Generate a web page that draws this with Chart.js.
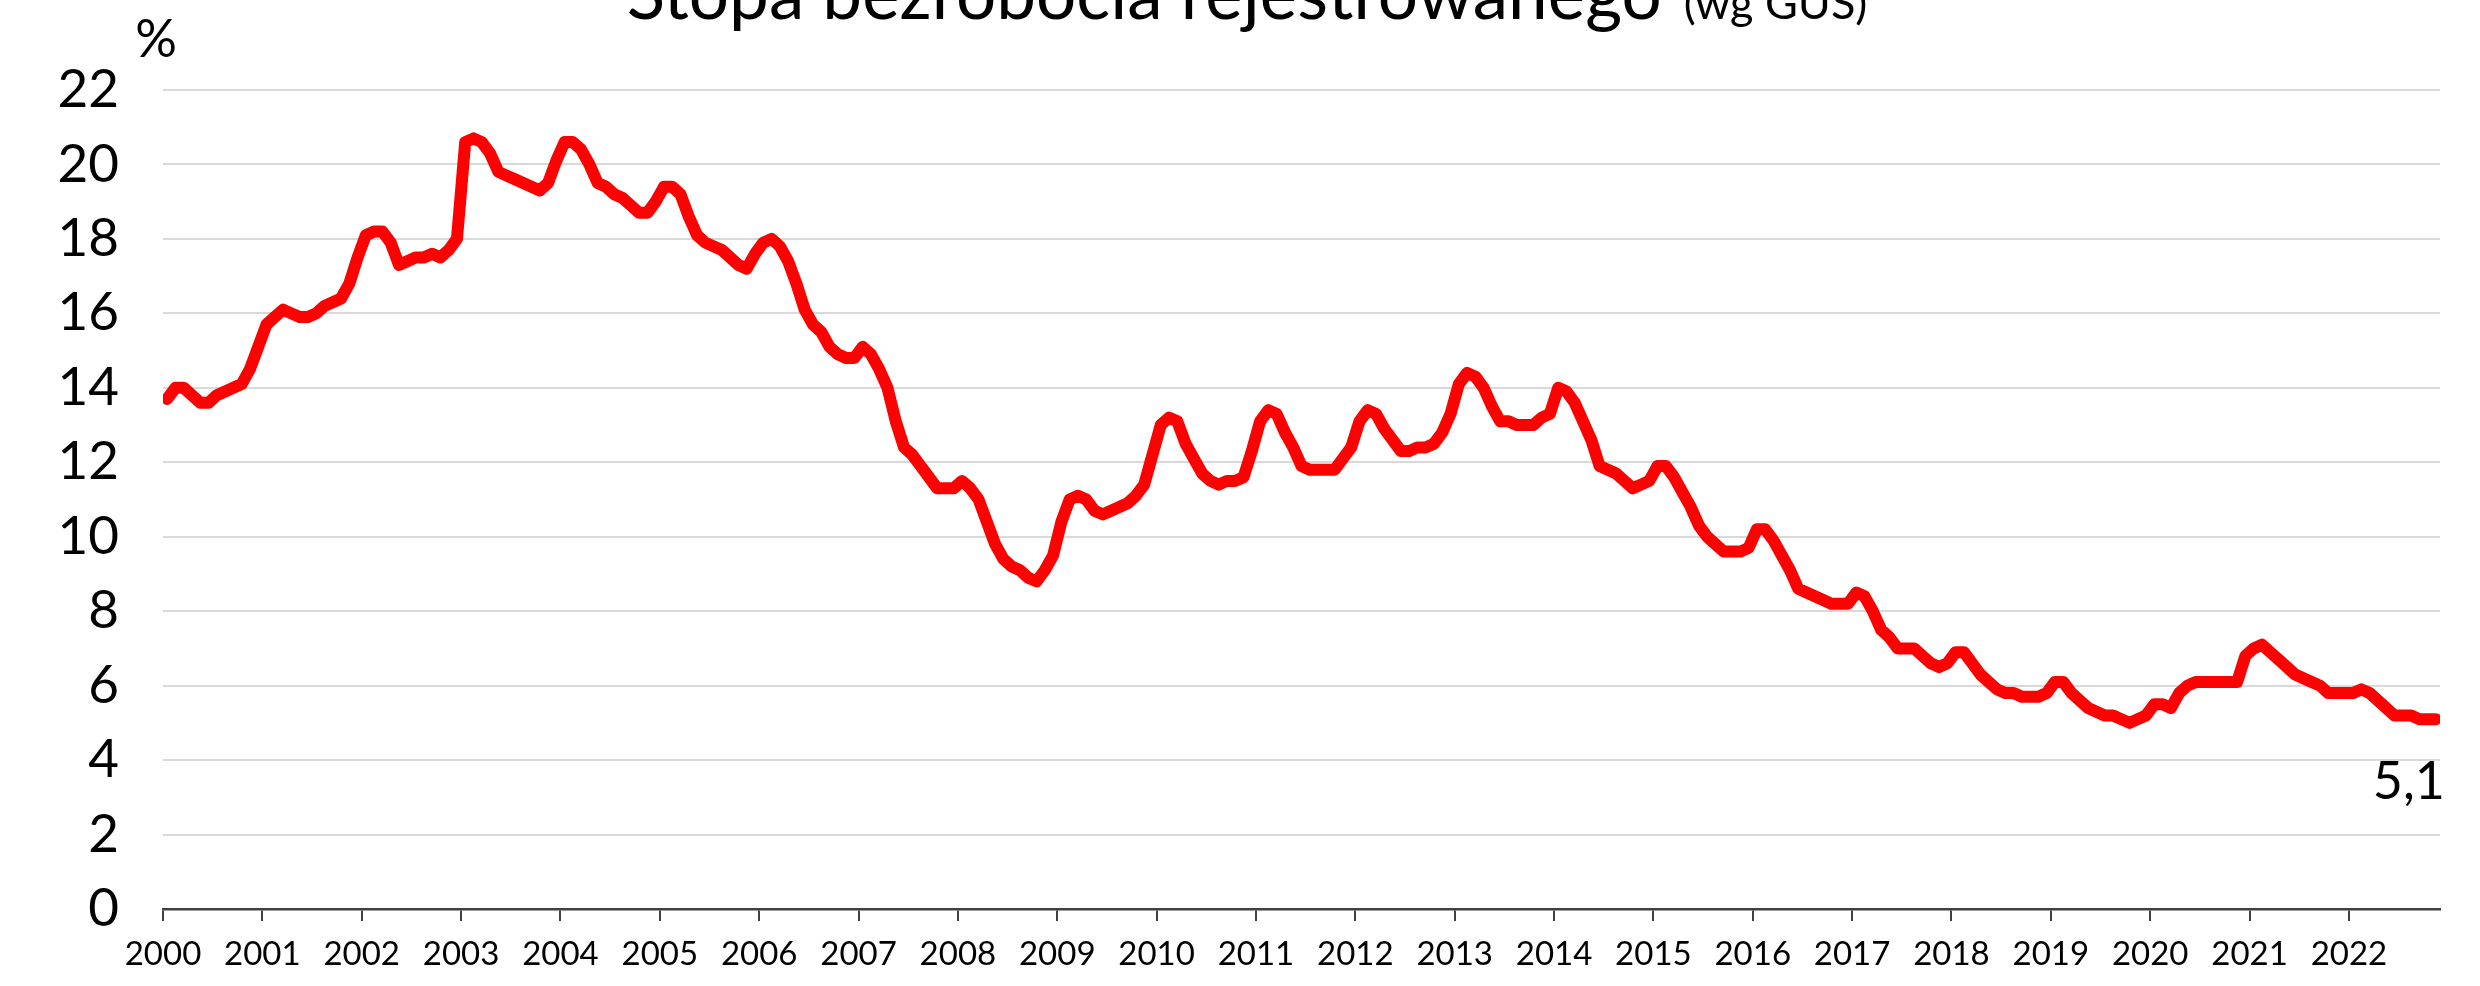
<!DOCTYPE html>
<html><head><meta charset="utf-8">
<script src="https://cdn.jsdelivr.net/npm/chart.js@4"></script>
<style>html,body{margin:0;padding:0;background:#fff}canvas{display:block}</style>
</head><body>
<canvas id="c" width="2480" height="986" style="width:2480px;height:986px"></canvas>
<script>
const titleMain = 'Stopa bezrobocia rejestrowanego';
const titleSub = '(wg GUS)';
const unitLabel = '%';
const yearLabels = [2000,2001,2002,2003,2004,2005,2006,2007,2008,2009,2010,2011,2012,2013,2014,2015,2016,2017,2018,2019,2020,2021,2022];
const yTicks = [0,2,4,6,8,10,12,14,16,18,20,22];

// monthly registered unemployment rate (%), Jan 2000 - Nov 2022
const rates2000s = [
  13.7,14.0,14.0,13.8,13.6,13.6,13.8,13.9,14.0,14.1,14.5,15.1,
  15.7,15.9,16.1,16.0,15.9,15.9,16.0,16.2,16.3,16.4,16.8,17.5,
  18.1,18.2,18.2,17.9,17.3,17.4,17.5,17.5,17.6,17.5,17.7,18.0,
  20.6,20.7,20.6,20.3,19.8,19.7,19.6,19.5,19.4,19.3,19.5,20.1,
  20.6,20.6,20.4,20.0,19.5,19.4,19.2,19.1,18.9,18.7,18.7,19.0,
  19.4,19.4,19.2,18.6,18.1,17.9,17.8,17.7,17.5,17.3,17.2,17.6,
  17.9,18.0,17.8,17.4,16.8,16.1,15.7,15.5,15.1,14.9,14.8,14.8,
  15.1,14.9,14.5,14.0,13.1,12.4,12.2,11.9,11.6,11.3,11.3,11.3,
  11.5,11.3,11.0,10.4,9.8,9.4,9.2,9.1,8.9,8.8,9.1,9.5,
  10.4,11.0,11.1,11.0,10.7,10.6,10.7,10.8,10.9,11.1,11.4,12.2
];
const rates2010s = [
  13.0,13.2,13.1,12.5,12.1,11.7,11.5,11.4,11.5,11.5,11.6,12.3,
  13.1,13.4,13.3,12.8,12.4,11.9,11.8,11.8,11.8,11.8,12.1,12.4,
  13.1,13.4,13.3,12.9,12.6,12.3,12.3,12.4,12.4,12.5,12.8,13.3,
  14.1,14.4,14.3,14.0,13.5,13.1,13.1,13.0,13.0,13.0,13.2,13.3,
  14.0,13.9,13.6,13.1,12.6,11.9,11.8,11.7,11.5,11.3,11.4,11.5,
  11.9,11.9,11.6,11.2,10.8,10.3,10.0,9.8,9.6,9.6,9.6,9.7,
  10.2,10.2,9.9,9.5,9.1,8.6,8.5,8.4,8.3,8.2,8.2,8.2,
  8.5,8.4,8.0,7.5,7.3,7.0,7.0,7.0,6.8,6.6,6.5,6.6,
  6.9,6.9,6.6,6.3,6.1,5.9,5.8,5.8,5.7,5.7,5.7,5.8,
  6.1,6.1,5.8,5.6,5.4,5.3,5.2,5.2,5.1,5.0,5.1,5.2
];
const rates2020s = [
  5.5,5.5,5.4,5.8,6.0,6.1,6.1,6.1,6.1,6.1,6.1,6.8,
  7.0,7.1,6.9,6.7,6.5,6.3,6.2,6.1,6.0,5.8,5.8,5.8,
  5.8,5.9,5.8,5.6,5.4,5.2,5.2,5.2,5.1,5.1,5.1
];

const rates = rates2000s.concat(rates2010s, rates2020s);
const points = rates.map((v, i) => ({ x: i, y: v }));
const lastLabel = rates[rates.length - 1].toFixed(1).replace('.', ',');

const FONT = 'Lato';

const decorPlugin = {
  id: 'decor',
  beforeDraw(chart) {
    const c = chart.ctx;
    c.save();
    c.fillStyle = '#ffffff';
    c.fillRect(0, 0, chart.width, chart.height);
    c.restore();
  },
  afterDraw(chart) {
    const c = chart.ctx;
    c.save();
    c.fillStyle = '#000000';
    c.textBaseline = 'alphabetic';
    // title (partly cut off at the top, as in the original)
    c.font = '71px ' + FONT;
    const w1 = c.measureText(titleMain).width;
    c.font = '45px ' + FONT;
    const w2 = c.measureText(titleSub).width;
    const gap = 22;
    const cx = 1247;
    const x0 = cx - (w1 + gap + w2) / 2;
    c.textAlign = 'left';
    c.font = '71px ' + FONT;
    c.fillText(titleMain, x0, 19);
    c.font = '45px ' + FONT;
    c.fillText(titleSub, x0 + w1 + gap, 19);
    // unit
    c.textAlign = 'center';
    c.font = '52px ' + FONT;
    c.fillText(unitLabel, 156, 57);
    // last value label
    const meta = chart.getDatasetMeta(0);
    const pt = meta.data[meta.data.length - 1];
    c.font = '52px ' + FONT;
    c.fillText(lastLabel, pt.x - 27, pt.y + 80);
    c.restore();
  }
};

new Chart(document.getElementById('c'), {
  type: 'line',
  data: {
    datasets: [{
      data: points,
      borderColor: '#ff0000',
      borderWidth: 12,
      pointRadius: 0,
      pointHoverRadius: 0,
      tension: 0,
      borderJoinStyle: 'round',
      borderCapStyle: 'round',
      fill: false
    }]
  },
  options: {
    responsive: false,
    animation: false,
    devicePixelRatio: 1,
    layout: { padding: { left: 0, right: 40, top: 90, bottom: 0 } },
    plugins: { legend: { display: false }, tooltip: { enabled: false }, title: { display: false } },
    scales: {
      x: {
        type: 'linear',
        min: -0.5,
        max: rates.length - 0.5,
        afterBuildTicks: (s) => { s.ticks = yearLabels.map((y, k) => ({ value: k * 12 - 0.5 })); },
        afterFit: (s) => { s.height = 77; },
        ticks: {
          autoSkip: false,
          maxRotation: 0,
          minRotation: 0,
          padding: 14,
          color: '#000000',
          font: { family: FONT, size: 33 },
          callback: (v, i) => String(yearLabels[i])
        },
        grid: { drawOnChartArea: false, drawTicks: true, tickLength: 12, color: '#404040', lineWidth: 2 },
        border: { display: true, color: '#404040', width: 2.5 }
      },
      y: {
        min: 0,
        max: 22,
        afterBuildTicks: (s) => { s.ticks = yTicks.map(v => ({ value: v })); },
        afterFit: (s) => { s.width = 163; },
        ticks: {
          padding: 44,
          color: '#000000',
          font: { family: FONT, size: 53 },
          callback: (v) => String(v)
        },
        grid: {
          drawTicks: false,
          lineWidth: 2,
          color: (ctx) => (ctx.tick && ctx.tick.value === 0) ? 'rgba(0,0,0,0)' : '#d9d9d9'
        },
        border: { display: false }
      }
    }
  },
  plugins: [decorPlugin]
});
</script>
</body></html>
